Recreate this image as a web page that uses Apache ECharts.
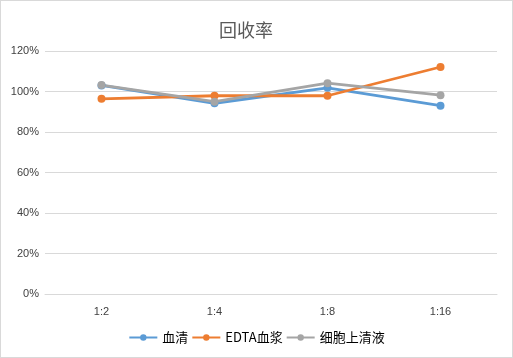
<!DOCTYPE html>
<html><head><meta charset="utf-8">
<script src="https://cdn.jsdelivr.net/npm/echarts@6/dist/echarts.min.js"></script>
<style>html,body{margin:0;padding:0;background:#fff}#c{width:511px;height:356px;border:1px solid #d9d9d9}</style>
</head><body><div id="c"></div>
<script>
var categories = ['1:2', '1:4', '1:8', '1:16'];
var serumValues = [103, 94.2, 101.8, 93];
var edtaValues = [96.4, 97.9, 97.9, 112.1];
var cellValues = [103.2, 95, 104.1, 98.2];
var seriesNames = ['血清', 'EDTA血浆', '细胞上清液'];
var colors = ['#5b9bd5', '#ed7d31', '#a5a5a5'];
var fontCJK = '"Noto Sans CJK SC", "Liberation Sans", sans-serif';
var chart = echarts.init(document.getElementById('c'));
function mk(name, data, color) {
  return {name: name, type: 'line', data: data, symbol: 'circle', symbolSize: 8,
    lineStyle: {width: 2.8, color: color}, itemStyle: {color: color}};
}
chart.setOption({
  animation: false,
  title: {text: '回收率', left: 213, top: 15,
    textStyle: {fontFamily: fontCJK, fontSize: 18, fontWeight: 'normal', color: '#595959'}},
  legend: {bottom: 8, left: 'center', itemWidth: 28, itemHeight: 8, itemGap: 3,
    textStyle: {fontFamily: fontCJK, fontSize: 13, color: '#000'},
    data: seriesNames},
  grid: {left: 44, right: 15, top: 50, bottom: 63},
  xAxis: {type: 'category', data: categories, boundaryGap: true,
    axisLine: {show: true, lineStyle: {color: '#d9d9d9'}}, axisTick: {show: false},
    axisLabel: {color: '#404040', fontSize: 11, fontFamily: 'Liberation Sans', margin: 12}},
  yAxis: {type: 'value', min: 0, max: 120, interval: 20,
    axisLine: {show: false}, axisTick: {show: false},
    splitLine: {lineStyle: {color: '#d9d9d9'}},
    axisLabel: {formatter: '{value}%', color: '#404040', fontSize: 11, fontFamily: 'Liberation Sans', margin: 6}},
  series: [mk(seriesNames[0], serumValues, colors[0]), mk(seriesNames[1], edtaValues, colors[1]), mk(seriesNames[2], cellValues, colors[2])]
});
</script></body></html>
